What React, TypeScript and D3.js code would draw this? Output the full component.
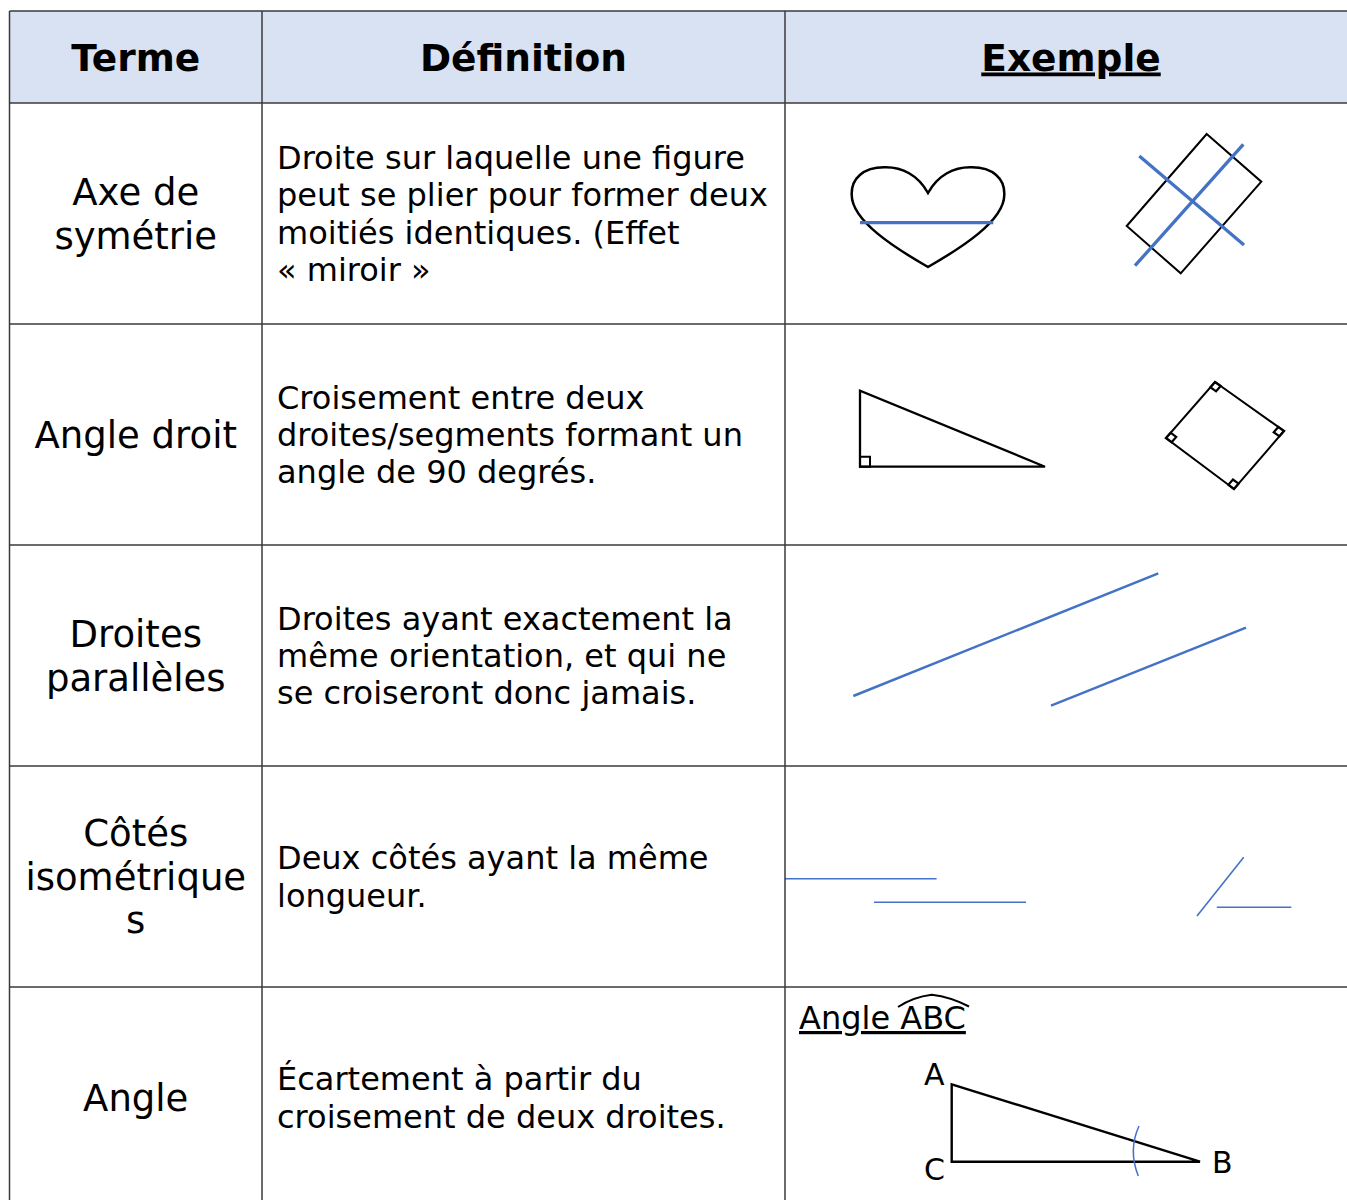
import React from "react";
import * as d3 from "d3";

// table content
const headers = ["Terme", "Définition", "Exemple"];
const terms = [
  ["Axe de", "symétrie"],
  ["Angle droit"],
  ["Droites", "parallèles"],
  ["Côtés", "isométrique", "s"],
  ["Angle"],
];
const definitions = [
  ["Droite sur laquelle une figure", "peut se plier pour former deux", "moitiés identiques. (Effet", "« miroir »"],
  ["Croisement entre deux", "droites/segments formant un", "angle de 90 degrés."],
  ["Droites ayant exactement la", "même orientation, et qui ne", "se croiseront donc jamais."],
  ["Deux côtés ayant la même", "longueur."],
  ["Écartement à partir du", "croisement de deux droites."],
];

// example figures, in coordinates local to the example cell
const heartCurves = [
  [143, 90],
  [133, 72, 117, 64, 100, 64.3],
  [78, 64, 66, 76, 66.7, 92],
  [67, 118, 110, 145, 143, 164],
  [176, 145, 219, 118, 219.3, 92],
  [220, 76, 208, 64, 186, 64.3],
  [169, 64, 153, 72, 143, 90],
];
const heartAxis = [[75, 119.7], [208.3, 119.7]];
const rectCorners = [[421.7, 31], [476.3, 78.7], [395.7, 170.3], [341.7, 123]];
const rectAxes = [
  [[354.3, 53], [459, 142]],
  [[458.3, 41.3], [350, 162.7]],
];
const rightTriangle = [[75, 66.7], [75, 142.7], [260, 142.7]];
const tiltedSquare = [[430, 58], [499, 107], [449, 165], [381, 114]];
const parallelLines = [
  [[68.3, 151], [373.3, 28.3]],
  [[266, 160.7], [461, 82.7]],
];
const isoSegments = [
  [[0, 112.7], [151.6, 112.7]],
  [[89, 136.3], [241, 136.3]],
  [[412, 150], [458.7, 91.3]],
  [[431.8, 141.3], [506.3, 141.3]],
];
const angleTriangle = { A: [166.7, 97.3], C: [166.7, 174.7], B: [415, 174.7] };
const angleLabels = [
  { t: "A", x: 139, y: 98 },
  { t: "C", x: 139, y: 193 },
  { t: "B", x: 427, y: 186 },
];

const W = 1347;
const H = 1200;
const COL_X = [9.5, 262, 785, 1357];
const HEADER_TOP = 11;
const HEADER_BOTTOM = 103;
const ROW_H = 221;
const BLUE = "#4472c4";
const GRID = "#3a3a3a";
const FONT = "'DejaVu Sans', sans-serif";

const line = d3.line();
const closed = (pts) => line(pts) + "Z";

function cornerMark(p, a, b, s) {
  const u = [a[0] - p[0], a[1] - p[1]];
  const v = [b[0] - p[0], b[1] - p[1]];
  const lu = Math.hypot(u[0], u[1]);
  const lv = Math.hypot(v[0], v[1]);
  const su = [(u[0] / lu) * s, (u[1] / lu) * s];
  const sv = [(v[0] / lv) * s, (v[1] / lv) * s];
  return closed([
    p,
    [p[0] + su[0], p[1] + su[1]],
    [p[0] + su[0] + sv[0], p[1] + su[1] + sv[1]],
    [p[0] + sv[0], p[1] + sv[1]],
  ]);
}

function heartPath() {
  const p = d3.path();
  const [start, ...rest] = heartCurves;
  p.moveTo(start[0], start[1]);
  rest.forEach((c) => p.bezierCurveTo(c[0], c[1], c[2], c[3], c[4], c[5]));
  p.closePath();
  return p.toString();
}

function Example({ row }) {
  if (row === 0) {
    return (
      <g>
        <path d={heartPath()} fill="none" stroke="#000" strokeWidth={2.5} />
        <path d={line(heartAxis)} stroke={BLUE} strokeWidth={3.3} />
        <path d={closed(rectCorners)} fill="none" stroke="#000" strokeWidth={2} />
        {rectAxes.map((s, i) => (
          <path key={i} d={line(s)} stroke={BLUE} strokeWidth={3.3} />
        ))}
      </g>
    );
  }
  if (row === 1) {
    const n = tiltedSquare.length;
    return (
      <g fill="none" stroke="#000">
        <path d={closed(rightTriangle)} strokeWidth={2.3} />
        <path d={cornerMark(rightTriangle[1], rightTriangle[0], rightTriangle[2], 10)} strokeWidth={2} />
        <path d={closed(tiltedSquare)} strokeWidth={2} />
        {tiltedSquare.map((p, i) => (
          <path
            key={i}
            d={cornerMark(p, tiltedSquare[(i + 1) % n], tiltedSquare[(i + n - 1) % n], 7)}
            strokeWidth={2.2}
          />
        ))}
      </g>
    );
  }
  if (row === 2) {
    return (
      <g>
        {parallelLines.map((s, i) => (
          <path key={i} d={line(s)} stroke={BLUE} strokeWidth={2.5} />
        ))}
      </g>
    );
  }
  if (row === 3) {
    return (
      <g>
        {isoSegments.map((s, i) => (
          <path key={i} d={line(s)} stroke={BLUE} strokeWidth={1.6} />
        ))}
      </g>
    );
  }
  const { A, B, C } = angleTriangle;
  const arc = d3.path();
  arc.moveTo(354, 139);
  arc.quadraticCurveTo(343, 163, 353.3, 189);
  const hat = d3.path();
  hat.moveTo(113, 20);
  hat.quadraticCurveTo(128, 10, 146.7, 7.7);
  hat.quadraticCurveTo(166, 10, 184, 19.5);
  return (
    <g fontFamily={FONT}>
      <text x={14} y={42} fontSize={32} textDecoration="underline">
        Angle ABC
      </text>
      <path d={hat.toString()} fill="none" stroke="#000" strokeWidth={2} />
      <path d={closed([A, C, B])} fill="none" stroke="#000" strokeWidth={2.4} />
      <path d={arc.toString()} fill="none" stroke={BLUE} strokeWidth={1.5} />
      {angleLabels.map((l) => (
        <text key={l.t} x={l.x} y={l.y} fontSize={30}>
          {l.t}
        </text>
      ))}
    </g>
  );
}

export default function App() {
  const y = d3
    .scaleLinear()
    .domain([0, terms.length])
    .range([HEADER_BOTTOM, HEADER_BOTTOM + ROW_H * terms.length]);
  const colMid = (i) => (COL_X[i] + COL_X[i + 1]) / 2;
  const rowMid = (i) => (y(i) + y(i + 1)) / 2;
  const termLH = 43.5;
  const defLH = 37.3;

  return (
    <svg
      width={W}
      height={H}
      style={{ position: "absolute", left: 0, top: 0, background: "#fff" }}
      fontFamily={FONT}
    >
      <rect
        x={COL_X[0]}
        y={HEADER_TOP}
        width={COL_X[3] - COL_X[0]}
        height={HEADER_BOTTOM - HEADER_TOP}
        fill="#d9e2f3"
      />
      {headers.map((h, i) => (
        <text
          key={h}
          x={colMid(i)}
          y={70.5}
          textAnchor="middle"
          fontSize={37.5}
          fontWeight="bold"
          textDecoration={i === 2 ? "underline" : undefined}
        >
          {h}
        </text>
      ))}

      {terms.map((lines, r) => (
        <g key={"t" + r}>
          {lines.map((t, k) => (
            <text
              key={k}
              x={colMid(0)}
              y={rowMid(r) + (k - (lines.length - 1) / 2) * termLH + 13.3}
              textAnchor="middle"
              fontSize={37}
            >
              {t}
            </text>
          ))}
        </g>
      ))}

      {definitions.map((lines, r) => (
        <g key={"d" + r}>
          {lines.map((t, k) => (
            <text
              key={k}
              x={COL_X[1] + 15}
              y={rowMid(r) + (k - (lines.length - 1) / 2) * defLH + 11.5}
              fontSize={32}
            >
              {t}
            </text>
          ))}
        </g>
      ))}

      {terms.map((_, r) => (
        <g key={"e" + r} transform={`translate(${COL_X[2]},${y(r)})`}>
          <Example row={r} />
        </g>
      ))}

      <g stroke={GRID} strokeWidth={1.5}>
        {[HEADER_TOP, ...d3.range(terms.length + 1).map((i) => y(i))].map((yy, i) => (
          <line key={"h" + i} x1={COL_X[0]} x2={COL_X[3]} y1={yy} y2={yy} />
        ))}
        {COL_X.map((xx, i) => (
          <line key={"v" + i} x1={xx} x2={xx} y1={HEADER_TOP} y2={y(terms.length)} />
        ))}
      </g>
    </svg>
  );
}
